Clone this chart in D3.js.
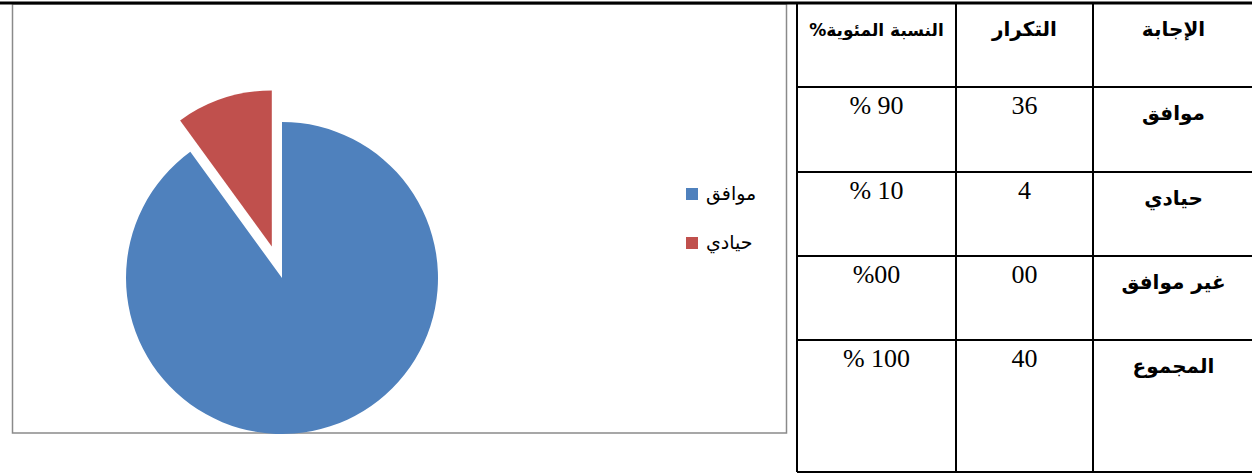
<!DOCTYPE html>
<html>
<head>
<meta charset="utf-8">
<script src="https://cdn.jsdelivr.net/npm/d3@7"></script>
<style>
  body { margin: 0; background: #fff; }
  svg { display: block; }
</style>
</head>
<body>
<div id="chart"></div>
<script>
// Pie data (only non-zero answers appear in the chart legend)
var pieCategories = ["موافق", "حيادي"];
var pieValues = [36, 4];
var pieColors = ["#4F81BD", "#C0504D"];

// Table data
var tableHeaders = ["النسبة المئوية%", "التكرار", "الإجابة"];
var answers = ["موافق", "حيادي", "غير موافق", "المجموع"];
var counts = ["36", "4", "00", "40"];
var percents = ["% 90", "% 10", "%00", "% 100"];

var W = 1252, H = 476;

var svg = d3.select("#chart")
  .append("svg")
  .attr("width", W)
  .attr("height", H);

// Chart frame
svg.append("rect")
  .attr("x", 12.5)
  .attr("y", 4)
  .attr("width", 774)
  .attr("height", 429)
  .attr("fill", "#fff")
  .attr("stroke", "#8a8a8a")
  .attr("stroke-width", 1.5);

// Pie
var cx = 282, cy = 278, radius = 156, explode = 33;
var pie = d3.pie().sort(null);
var arc = d3.arc().innerRadius(0).outerRadius(radius);
var arcs = pie(pieValues);

var pieG = svg.append("g").attr("transform", "translate(" + cx + "," + cy + ")");
pieG.selectAll("path")
  .data(arcs)
  .enter()
  .append("path")
  .attr("d", arc)
  .attr("fill", function (d, i) { return pieColors[i]; })
  .attr("transform", function (d, i) {
    // explode the smaller slice outwards along its bisector
    if (i === 0) return null;
    var mid = (d.startAngle + d.endAngle) / 2;
    return "translate(" + (Math.sin(mid) * explode) + "," + (-Math.cos(mid) * explode) + ")";
  });

// Legend
var legend = svg.append("g").attr("transform", "translate(686,188)");
var items = legend.selectAll("g")
  .data(pieCategories)
  .enter()
  .append("g")
  .attr("transform", function (d, i) { return "translate(0," + (i * 49) + ")"; });
items.append("rect")
  .attr("width", 12)
  .attr("height", 12)
  .attr("fill", function (d, i) { return pieColors[i]; });
items.append("text")
  .attr("x", 20)
  .attr("y", 12)
  .style("font-family", "'DejaVu Sans', sans-serif")
  .style("font-size", "19px")
  .attr("fill", "#000")
  .text(function (d) { return d; });

// Table
var colX = [797, 956, 1093, 1254];
var rowY = [3, 87, 172, 256, 340, 472];
var table = svg.append("g");

table.selectAll("line.h")
  .data(rowY)
  .enter()
  .append("line")
  .attr("class", "h")
  .attr("x1", function (d, i) { return i === 0 ? 0 : colX[0]; })
  .attr("x2", W)
  .attr("y1", function (d) { return d; })
  .attr("y2", function (d) { return d; })
  .attr("stroke", "#000")
  .attr("stroke-width", function (d, i) { return i === 0 ? 3 : 2; });

table.selectAll("line.v")
  .data(colX.slice(0, 3))
  .enter()
  .append("line")
  .attr("class", "v")
  .attr("x1", function (d) { return d; })
  .attr("x2", function (d) { return d; })
  .attr("y1", rowY[0])
  .attr("y2", rowY[rowY.length - 1])
  .attr("stroke", "#000")
  .attr("stroke-width", 2);

function colMid(i) { return (colX[i] + colX[i + 1]) / 2; }

var arabicFont = "'DejaVu Sans', 'Noto Sans', sans-serif";
var numFont = "'Liberation Serif', 'DejaVu Serif', serif";

// header
table.selectAll("text.head")
  .data(tableHeaders)
  .enter()
  .append("text")
  .attr("class", "head")
  .attr("x", function (d, i) { return colMid(i); })
  .attr("y", rowY[0] + 33)
  .attr("text-anchor", "middle")
  .attr("direction", "rtl")
  .style("font-family", arabicFont)
  .style("font-weight", "bold")
  .style("font-size", function (d, i) { return i === 0 ? "17px" : "20px"; })
  .text(function (d) { return d; });

// rows
answers.forEach(function (a, r) {
  var top = rowY[r + 1];
  table.append("text")
    .attr("x", colMid(0))
    .attr("y", top + 27)
    .attr("text-anchor", "middle")
    .style("font-family", numFont)
    .style("font-size", "26px")
    .text(percents[r]);
  table.append("text")
    .attr("x", colMid(1))
    .attr("y", top + 27)
    .attr("text-anchor", "middle")
    .style("font-family", numFont)
    .style("font-size", "26px")
    .text(counts[r]);
  table.append("text")
    .attr("x", colMid(2))
    .attr("y", top + 33)
    .attr("text-anchor", "middle")
    .attr("direction", "rtl")
    .style("font-family", arabicFont)
    .style("font-weight", "bold")
    .style("font-size", "20px")
    .text(a);
});
</script>
</body>
</html>
